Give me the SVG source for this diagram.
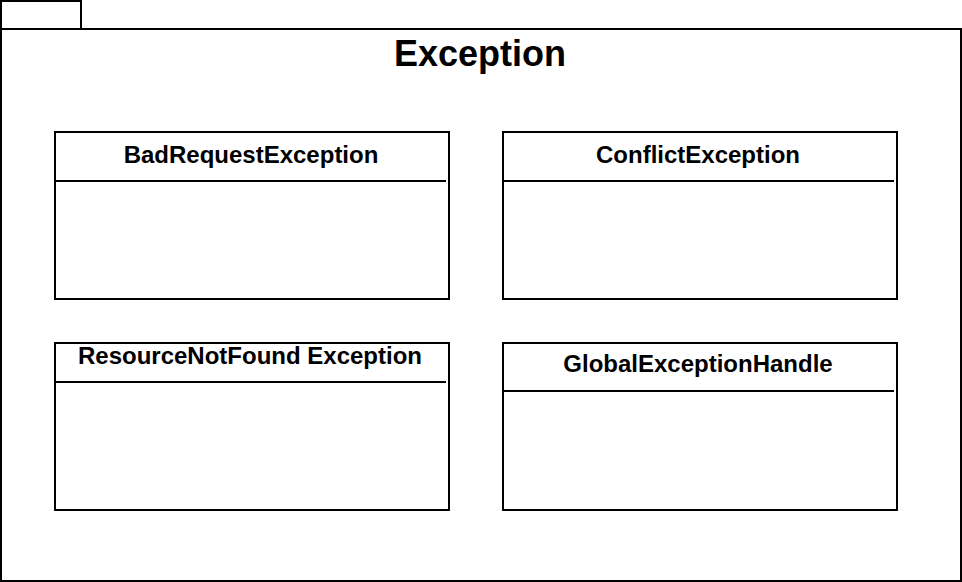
<svg xmlns="http://www.w3.org/2000/svg" width="962" height="582" viewBox="0 0 962 582">
<style>
.f{fill:#fff;stroke:#000;stroke-width:2}
.b{fill:#fff;stroke:#000;stroke-width:2}
.l{stroke:#000;stroke-width:2}
.t{font-family:"Liberation Sans",Arial,sans-serif;font-weight:bold;font-size:24px;text-anchor:middle;fill:#000}
.h{font-family:"Liberation Sans",Arial,sans-serif;font-weight:bold;font-size:36px;text-anchor:middle;fill:#000}
</style>
<rect width="962" height="582" fill="#fff"/>
<g id="package">
<rect class="f" x="1" y="1" width="80" height="28"/>
<rect class="f" x="1" y="29" width="960" height="552"/>
<text class="h" x="480" y="66">Exception</text>
</g>
<g id="BadRequestException">
<rect class="b" x="55" y="132" width="394" height="167"/>
<line class="l" x1="54" y1="181" x2="446" y2="181"/>
<text class="t" x="251" y="163">BadRequestException</text>
</g>
<g id="ConflictException">
<rect class="b" x="503" y="132" width="394" height="167"/>
<line class="l" x1="502" y1="181" x2="894" y2="181"/>
<text class="t" x="698" y="163">ConflictException</text>
</g>
<g id="ResourceNotFoundException">
<rect class="b" x="55" y="343" width="394" height="167"/>
<line class="l" x1="54" y1="382" x2="446" y2="382"/>
<text class="t" x="250" y="364">ResourceNotFound Exception</text>
</g>
<g id="GlobalExceptionHandle">
<rect class="b" x="503" y="343" width="394" height="167"/>
<line class="l" x1="502" y1="391" x2="894" y2="391"/>
<text class="t" x="698" y="372">GlobalExceptionHandle</text>
</g>
<g id="connectors"/>
</svg>
